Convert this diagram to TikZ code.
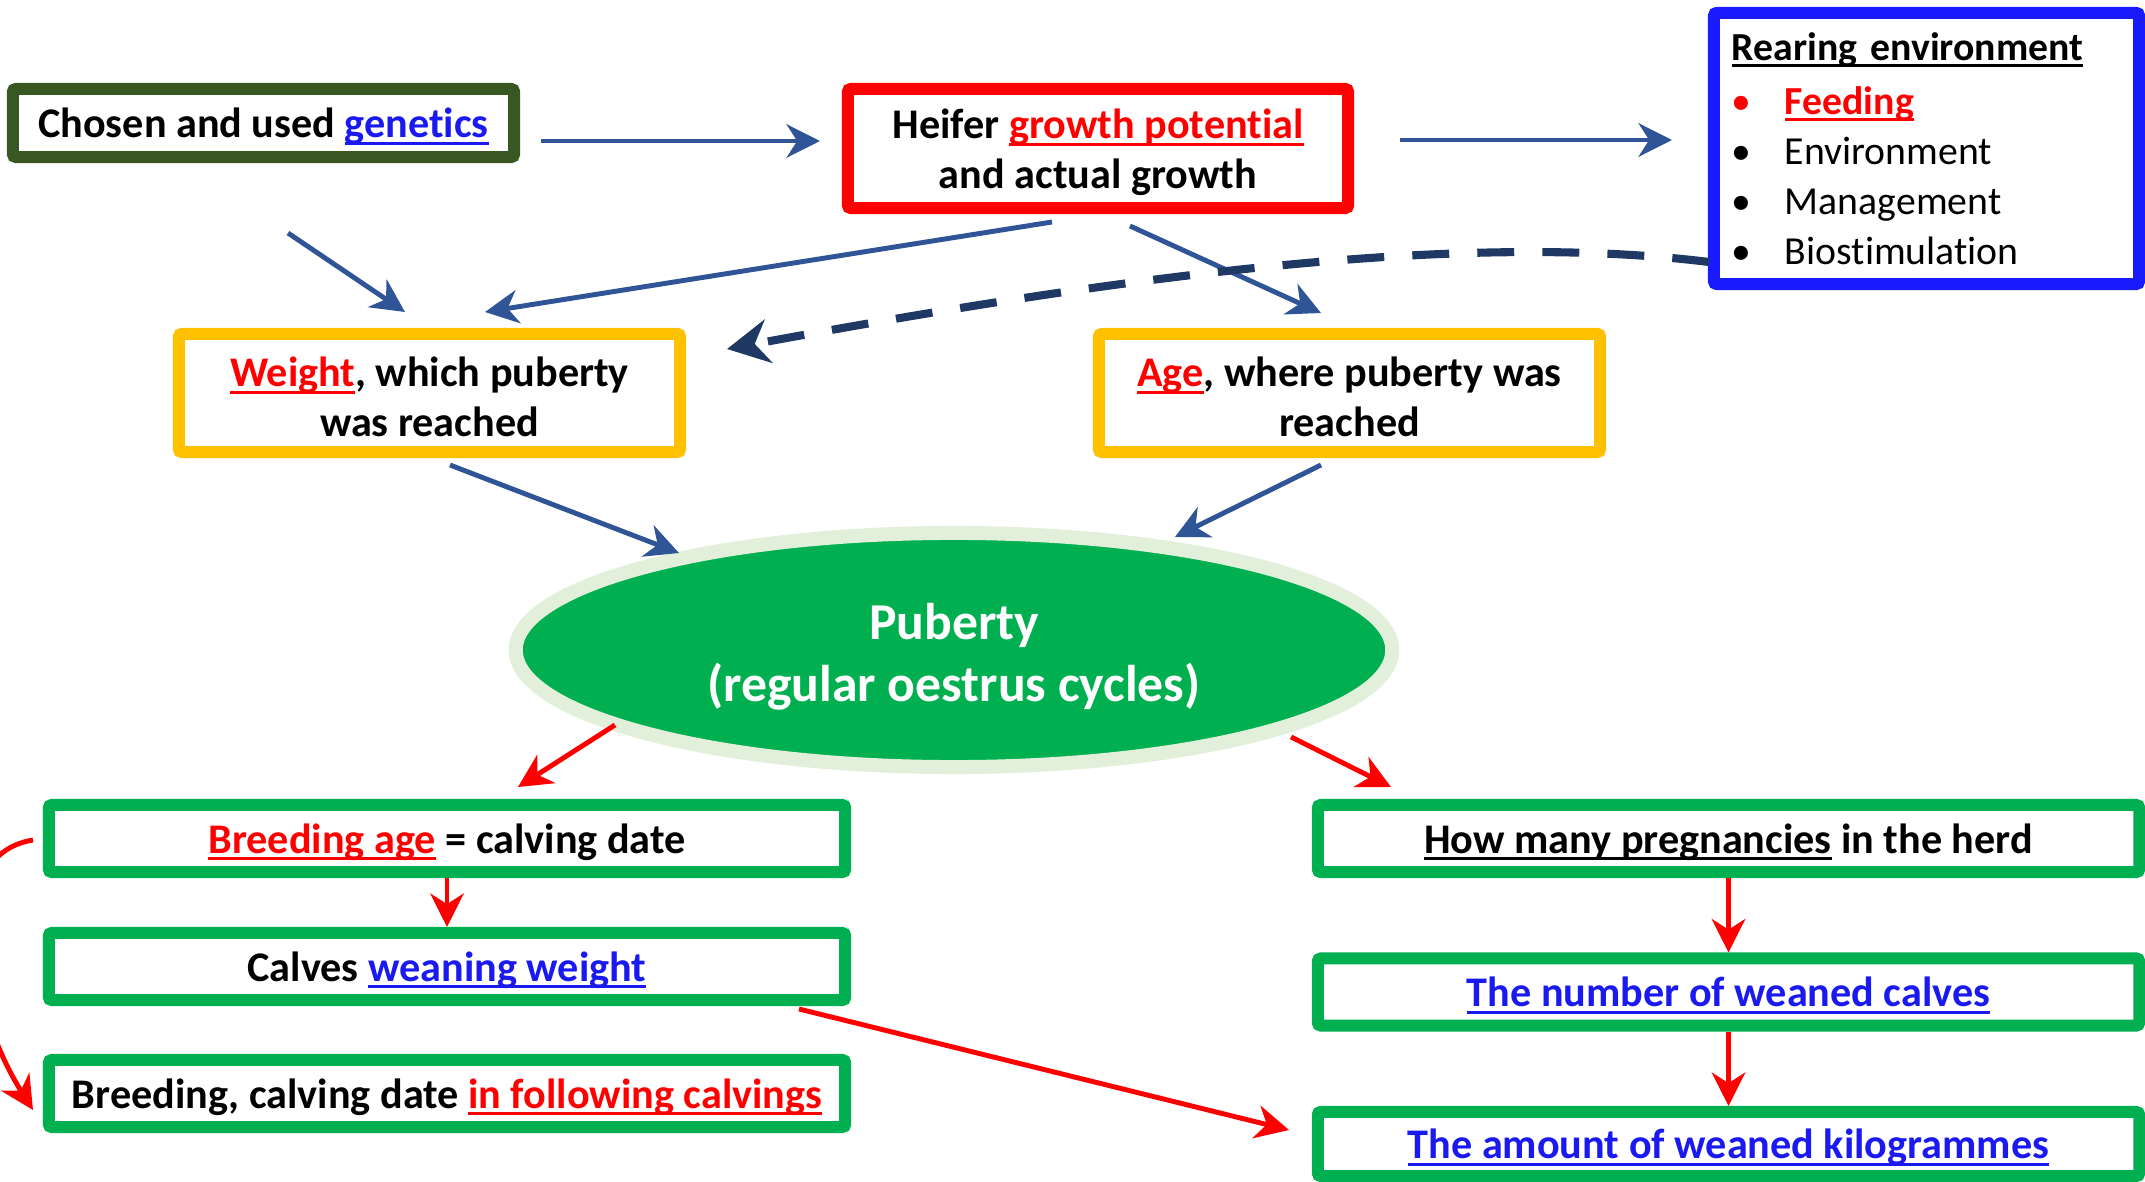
\documentclass[tikz,border=0pt]{standalone}
\usepackage{fontspec}
\setmainfont[Ligatures=NoCommon]{Carlito}
\usetikzlibrary{arrows.meta,shapes.geometric}

\definecolor{gengreen}{RGB}{56,87,35}
\definecolor{hotred}{RGB}{255,0,0}
\definecolor{envblue}{RGB}{26,26,255}
\definecolor{linkblue}{RGB}{26,26,240}
\definecolor{gold}{RGB}{255,192,0}
\definecolor{boxgreen}{RGB}{0,176,80}
\definecolor{palegreen}{RGB}{226,239,218}
\definecolor{arrblue}{RGB}{47,85,151}
\definecolor{navy}{RGB}{31,56,100}

\newsavebox\ulbox
\newcommand{\undl}[1]{\sbox\ulbox{#1}\rlap{\smash{\rule[-0.17em]{\wd\ulbox}{0.07em}}}\usebox\ulbox}
\newcommand{\lnk}[1]{\textcolor{linkblue}{\undl{#1}}}
\newcommand{\hot}[1]{\textcolor{hotred}{\undl{#1}}}
\newcommand{\itm}[1]{\makebox[0.53cm][l]{\textbullet}#1}
\newcommand{\topgap}{\rule{0pt}{10.8pt}}

\tikzstyle{box}=[draw,fill=white,rectangle,line width=0.12cm,rounded corners=0.03cm,align=center,inner sep=0pt,font=\fontsize{12}{14.2}\selectfont\bfseries]
\tikzstyle{oneline}=[text height=10pt,text depth=1.6pt]
\tikzstyle{genbox}=[box,oneline,draw=gengreen,minimum width=5.01cm,minimum height=0.68cm]
\tikzstyle{growbox}=[box,draw=hotred,minimum width=5.0cm,minimum height=1.19cm]
\tikzstyle{envbox}=[box,draw=envblue,align=left,text width=3.89cm,inner xsep=0.18cm,minimum height=2.71cm,font=\fontsize{11.3}{14.2}\selectfont]
\tikzstyle{pubbox}=[box,draw=gold,minimum width=5.01cm,minimum height=1.18cm]
\tikzstyle{herdbox}=[box,oneline,draw=boxgreen,minimum height=0.67cm]
\tikzstyle{puberty}=[ellipse,draw=palegreen,fill=boxgreen,line width=0.14cm,minimum width=8.76cm,minimum height=2.34cm,inner sep=0pt,align=center,text=white,font=\fontsize{14.7}{17.6}\selectfont\bfseries]
\tikzstyle{link}=[draw=arrblue,line width=1.4pt,-{Stealth[length=9.5pt,width=9.5pt,inset=3pt]}]
\tikzstyle{redlink}=[draw=hotred,line width=1.4pt,-{Stealth[length=9.5pt,width=9.5pt,inset=3pt]}]
\tikzstyle{feedback}=[draw=navy,line width=2.3pt,dash pattern=on 10.5pt off 8pt,-{Stealth[length=12pt,width=12.5pt,inset=4pt]}]

\begin{document}
\begin{tikzpicture}[x=0.01cm,y=-0.01cm]
  \useasboundingbox (0,0) rectangle (2145,1182);

  \node (gen)[genbox] at (263.5,123) {Chosen and used \lnk{genetics}};
  \node (grow)[growbox] at (1098,148.5) {\topgap Heifer \hot{growth potential}\\and actual growth};
  \node (env)[envbox] at (1926.5,148.5) {{\bfseries\undl{Rearing environment}}\\[1.1pt]
    \textcolor{hotred}{\itm{\bfseries\undl{Feeding}}}\\
    \itm{Environment}\\
    \itm{Management}\\
    \itm{Biostimulation}};
  \node (weight)[pubbox] at (429.5,393) {\topgap\hot{Weight}, which puberty\\was reached};
  \node (age)[pubbox] at (1349.5,393) {\topgap\hot{Age}, where puberty was\\reached};
  \node (pub)[puberty] at (954,650) {\rule{0pt}{14pt}Puberty\\(regular oestrus cycles)};

  \node (breed)[herdbox,minimum width=7.96cm] at (447,838.5) {\hot{Breeding age} = calving date};
  \node (calves)[herdbox,minimum width=7.96cm] at (447,966.5) {Calves \lnk{weaning weight}};
  \node (follow)[herdbox,minimum width=7.96cm] at (447,1093.5) {Breeding, calving date \hot{in following calvings}};
  \node (preg)[herdbox,minimum width=8.21cm] at (1728.5,838.5) {\undl{How many pregnancies} in the herd};
  \node (weaned)[herdbox,minimum width=8.21cm] at (1728.5,992) {\lnk{The number of weaned calves}};
  \node (kilos)[herdbox,minimum width=8.21cm,minimum height=0.64cm] at (1728.5,1144) {\lnk{The amount of weaned kilogrammes}};

  % free ends of the arrows
  \coordinate (genout) at (541,141);
  \coordinate (growin) at (820,141);
  \coordinate (growout) at (1400,140);
  \coordinate (envin) at (1672,140);
  \coordinate (genlow) at (288,233);
  \coordinate (weighttop) at (405,312);
  \coordinate (growleft) at (1052,222);
  \coordinate (weighttop2) at (485,312);
  \coordinate (growright) at (1130,226);
  \coordinate (agetop) at (1321,313);
  \coordinate (envleft) at (1709,262);
  \coordinate (weightright) at (727,349);
  \coordinate (weightlow) at (450,465);
  \coordinate (publeft) at (679,553);
  \coordinate (agelow) at (1321,465);
  \coordinate (pubright) at (1175,537);
  \coordinate (pubout1) at (615,725);
  \coordinate (breedtop) at (518,787);
  \coordinate (pubout2) at (1291,737);
  \coordinate (pregtop) at (1391,787);
  \coordinate (calvesout) at (799,1009);
  \coordinate (kilosin) at (1289,1130);
  \coordinate (breedleft) at (33,840);
  \coordinate (followleft) at (33,1110);

  \draw[link] (genout) -- (growin);
  \draw[link] (growout) -- (envin);
  \draw[link] (genlow) -- (weighttop);
  \draw[link] (growleft) -- (weighttop2);
  \draw[link] (growright) -- (agetop);
  \draw[link] (weightlow) -- (publeft);
  \draw[link] (agelow) -- (pubright);
  \draw[feedback] (envleft) .. controls (1450,230) and (1100,280) .. (weightright);

  \draw[redlink] (pubout1) -- (breedtop);
  \draw[redlink] (pubout2) -- (pregtop);
  \draw[redlink] (breed) -- (calves);
  \draw[redlink] (calvesout) -- (kilosin);
  \draw[redlink] (preg) -- (weaned);
  \draw[redlink] (weaned) -- (kilos);
  \draw[redlink] (breedleft) .. controls (-60,855) and (-30,1010) .. (followleft);
\end{tikzpicture}
\end{document}
